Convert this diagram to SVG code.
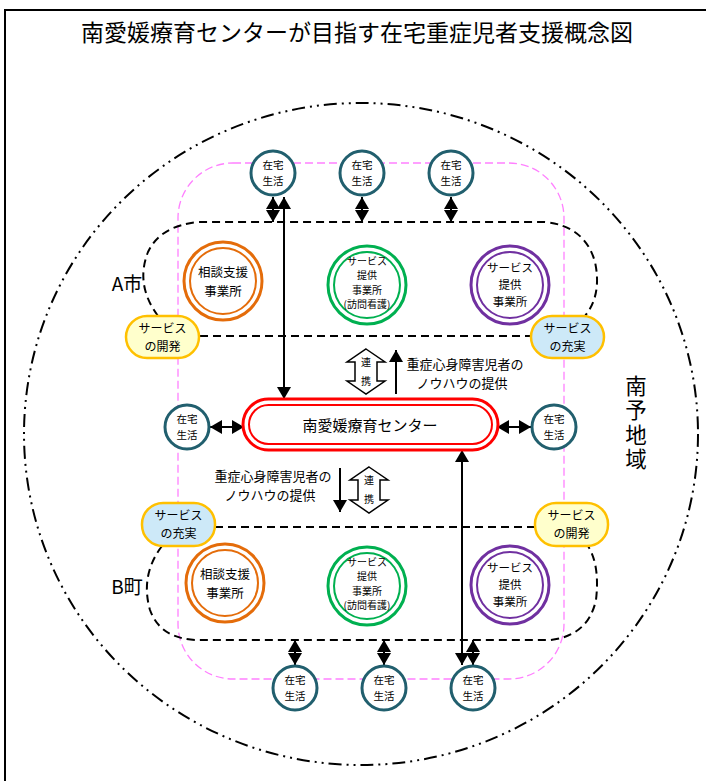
<svg xmlns="http://www.w3.org/2000/svg" width="706" height="781" viewBox="0 0 706 781">
<defs>
<marker id="ah" viewBox="0 0 12 14" refX="12" refY="7" markerWidth="12" markerHeight="14" markerUnits="userSpaceOnUse" orient="auto-start-reverse">
<path d="M0,0 L12,7 L0,14 z" fill="#000"/>
</marker>
<style>
text{font-family:"Noto Sans CJK JP","Liberation Sans",sans-serif;fill:#000;text-anchor:middle}
.home{fill:#fff;stroke:#215f6e;stroke-width:3}
.ht{font-size:10.5px}
.badge{stroke:#ffc000;stroke-width:2.5}
.dev{fill:#ffffcc}
.enh{fill:#cde9f8}
.bt{font-size:12px}
.dash{fill:none;stroke:#000;stroke-width:2;stroke-dasharray:8 5}
.arr{stroke:#000;stroke-width:2;fill:none;marker-start:url(#ah);marker-end:url(#ah)}
.one{stroke:#000;stroke-width:2;fill:none;marker-end:url(#ah)}
.blk{fill:#fff;stroke:#000;stroke-width:1.5}
.o1{fill:#fff;stroke-width:3}
.o2{fill:none;stroke-width:2}
.gt{font-size:10px}
.st{font-size:12.5px}
.pt{font-size:11.5px}
.kt{font-size:13px}
</style>
</defs>
<rect width="706" height="781" fill="#fff"/>
<path d="M5,790 L5,10 L720,10" fill="none" stroke="#000" stroke-width="2"/>
<text x="357" y="41" style="font-size:23px">南愛媛療育センターが目指す在宅重症児者支援概念図</text>

<g id="region">
<ellipse cx="361" cy="434" rx="337" ry="331" fill="none" stroke="#000" stroke-width="2" stroke-dasharray="13 5 2 5 2 5"/>
<text x="636" y="424" style="font-size:21.5px;writing-mode:vertical-rl;letter-spacing:3px">南予地域</text>
</g>

<rect id="area" x="178" y="163" width="386" height="516" rx="55" fill="none" stroke="#ff80ff" stroke-width="1.3" stroke-dasharray="8 4"/>

<g id="cityA">
<path class="dash" d="M158,316 Q135,285 148,252 Q160,226 198,222 L545,222 Q585,226 595,262 Q602,295 585,316"/>
<line class="dash" x1="200" y1="336" x2="531" y2="336"/>
<text x="127" y="291" style="font-size:19px">A市</text>
</g>
<g id="cityB">
<path class="dash" d="M162,546 Q140,575 150,610 Q160,638 195,640 L550,640 Q588,636 596,600 Q600,565 588,546"/>
<line class="dash" x1="215" y1="527" x2="535" y2="527"/>
<text x="127" y="594" style="font-size:19px">B町</text>
</g>

<g id="connectors">
<line class="arr" x1="273" y1="197" x2="273" y2="222"/>
<line class="arr" x1="362" y1="197" x2="362" y2="222"/>
<line class="arr" x1="451" y1="197" x2="451" y2="222"/>
<line class="arr" x1="284" y1="197" x2="284" y2="399"/>
<line class="arr" x1="295" y1="640" x2="295" y2="665"/>
<line class="arr" x1="384" y1="640" x2="384" y2="665"/>
<line class="arr" x1="473" y1="640" x2="473" y2="665"/>
<line class="arr" x1="462" y1="450" x2="462" y2="665"/>
<line class="arr" x1="210" y1="427" x2="244" y2="427"/>
<line class="arr" x1="497" y1="427" x2="531" y2="427"/>
<line class="one" x1="396" y1="394" x2="396" y2="350"/>
<line class="one" x1="340" y1="468" x2="340" y2="512"/>
</g>

<g id="renkei1">
<polygon class="blk" points="366,349 385,362 377,362 377,381 385,381 366,394 347,381 355,381 355,362 347,362"/>
<text style="font-size:10px"><tspan x="366" y="366">連</tspan><tspan x="366" y="385">携</tspan></text>
</g>
<g id="renkei2">
<polygon class="blk" points="369,467 388,480 380,480 380,500 388,500 369,513 350,500 358,500 358,480 350,480"/>
<text style="font-size:10px"><tspan x="369" y="484">連</tspan><tspan x="369" y="503">携</tspan></text>
</g>
<g id="know1">
<text class="kt"><tspan x="465" y="369">重症心身障害児者の</tspan><tspan x="462" y="388">ノウハウの提供</tspan></text>
</g>
<g id="know2">
<text class="kt"><tspan x="273" y="481">重症心身障害児者の</tspan><tspan x="270" y="500">ノウハウの提供</tspan></text>
</g>

<g id="center">
<rect x="243" y="399" width="255" height="51" rx="25.5" fill="#fff" stroke="#ff0000" stroke-width="3"/>
<rect x="249" y="405" width="243" height="39" rx="19.5" fill="none" stroke="#ff0000" stroke-width="2"/>
<text x="370" y="431" style="font-size:15px">南愛媛療育センター</text>
</g>

<g id="home-t1"><circle class="home" cx="273" cy="173" r="22"/><text class="ht"><tspan x="273" y="169">在宅</tspan><tspan x="273" y="184.5">生活</tspan></text></g>
<g id="home-t2"><circle class="home" cx="362" cy="173" r="22"/><text class="ht"><tspan x="362" y="169">在宅</tspan><tspan x="362" y="184.5">生活</tspan></text></g>
<g id="home-t3"><circle class="home" cx="451" cy="173" r="22"/><text class="ht"><tspan x="451" y="169">在宅</tspan><tspan x="451" y="184.5">生活</tspan></text></g>
<g id="home-l"><circle class="home" cx="187" cy="427" r="22"/><text class="ht"><tspan x="187" y="423">在宅</tspan><tspan x="187" y="438.5">生活</tspan></text></g>
<g id="home-r"><circle class="home" cx="554" cy="427" r="22"/><text class="ht"><tspan x="554" y="423">在宅</tspan><tspan x="554" y="438.5">生活</tspan></text></g>
<g id="home-b1"><circle class="home" cx="295" cy="688" r="22"/><text class="ht"><tspan x="295" y="684">在宅</tspan><tspan x="295" y="699.5">生活</tspan></text></g>
<g id="home-b2"><circle class="home" cx="384" cy="688" r="22"/><text class="ht"><tspan x="384" y="684">在宅</tspan><tspan x="384" y="699.5">生活</tspan></text></g>
<g id="home-b3"><circle class="home" cx="473" cy="688" r="22"/><text class="ht"><tspan x="473" y="684">在宅</tspan><tspan x="473" y="699.5">生活</tspan></text></g>

<g id="badge-a1"><rect class="badge dev" x="126" y="316" width="73" height="42" rx="21"/><text class="bt"><tspan x="162.5" y="333">サービス</tspan><tspan x="162.5" y="351">の開発</tspan></text></g>
<g id="badge-a2"><rect class="badge enh" x="531" y="316" width="73" height="42" rx="21"/><text class="bt"><tspan x="567.5" y="333">サービス</tspan><tspan x="567.5" y="351">の充実</tspan></text></g>
<g id="badge-b1"><rect class="badge enh" x="142" y="503" width="73" height="43" rx="21"/><text class="bt"><tspan x="178.5" y="520">サービス</tspan><tspan x="178.5" y="538">の充実</tspan></text></g>
<g id="badge-b2"><rect class="badge dev" x="535" y="503" width="73" height="43" rx="21"/><text class="bt"><tspan x="571.5" y="520">サービス</tspan><tspan x="571.5" y="538">の開発</tspan></text></g>

<g id="soudan-a"><circle class="o1" cx="223" cy="281" r="39" stroke="#e46c0a"/><circle class="o2" cx="223" cy="281" r="33" stroke="#e46c0a"/><text class="st"><tspan x="223" y="277">相談支援</tspan><tspan x="223" y="295.5">事業所</tspan></text></g>
<g id="houmon-a"><circle class="o1" cx="367" cy="285" r="39" stroke="#00b050"/><circle class="o2" cx="367" cy="285" r="33" stroke="#00b050"/><text class="gt"><tspan x="367" y="264.5">サービス</tspan><tspan x="367" y="279.1">提供</tspan><tspan x="367" y="293.7">事業所</tspan><tspan x="367" y="308.3">(訪問看護)</tspan></text></g>
<g id="service-a"><circle class="o1" cx="510" cy="285" r="39" stroke="#7030a0"/><circle class="o2" cx="510" cy="285" r="33" stroke="#7030a0"/><text class="pt"><tspan x="510" y="272">サービス</tspan><tspan x="510" y="289">提供</tspan><tspan x="510" y="306">事業所</tspan></text></g>

<g id="soudan-b"><circle class="o1" cx="225" cy="583" r="39" stroke="#e46c0a"/><circle class="o2" cx="225" cy="583" r="33" stroke="#e46c0a"/><text class="st"><tspan x="225" y="579">相談支援</tspan><tspan x="225" y="597.5">事業所</tspan></text></g>
<g id="houmon-b"><circle class="o1" cx="367" cy="586" r="39" stroke="#00b050"/><circle class="o2" cx="367" cy="586" r="33" stroke="#00b050"/><text class="gt"><tspan x="367" y="565.5">サービス</tspan><tspan x="367" y="580.1">提供</tspan><tspan x="367" y="594.7">事業所</tspan><tspan x="367" y="609.3">(訪問看護)</tspan></text></g>
<g id="service-b"><circle class="o1" cx="510" cy="585" r="39" stroke="#7030a0"/><circle class="o2" cx="510" cy="585" r="33" stroke="#7030a0"/><text class="pt"><tspan x="510" y="572">サービス</tspan><tspan x="510" y="589">提供</tspan><tspan x="510" y="606">事業所</tspan></text></g>
</svg>
